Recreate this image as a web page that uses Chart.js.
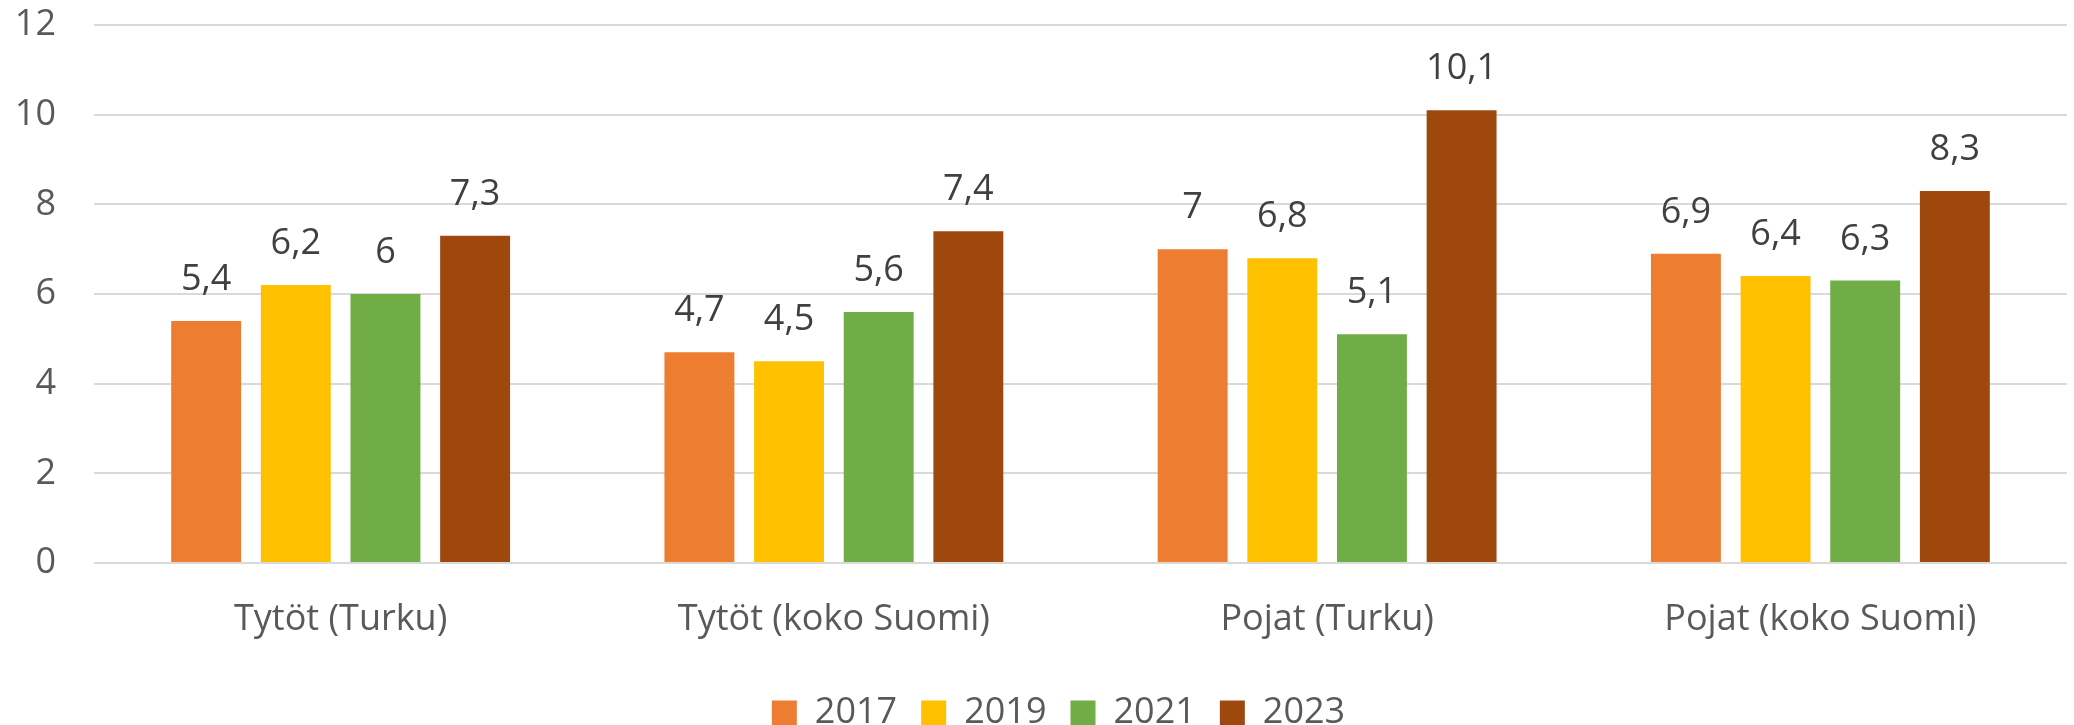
<!DOCTYPE html>
<html>
<head>
<meta charset="utf-8">
<script src="https://cdn.jsdelivr.net/npm/chart.js@4"></script>
<style>
  html, body { margin: 0; padding: 0; background: #ffffff; }
  #wrap { width: 2074px; height: 725px; position: relative; }
</style>
</head>
<body>
<div id="wrap"><canvas id="c"></canvas></div>
<script>
const categories = ["Tytöt (Turku)", "Tytöt (koko Suomi)", "Pojat (Turku)", "Pojat (koko Suomi)"];
const seriesNames = ["2017", "2019", "2021", "2023"];
const values2017 = [5.4, 4.7, 7.0, 6.9];
const values2019 = [6.2, 4.5, 6.8, 6.4];
const values2021 = [6.0, 5.6, 5.1, 6.3];
const values2023 = [7.3, 7.4, 10.1, 8.3];
const seriesColors = ["#ED7D31", "#FFC000", "#70AD47", "#9E480E"];
const yTicks = [0, 2, 4, 6, 8, 10, 12];

const FONT = "'Open Sans'";
const seriesValues = [values2017, values2019, values2021, values2023];

const dataLabels = {
  id: 'dataLabels',
  afterDatasetsDraw(chart) {
    const ctx = chart.ctx;
    ctx.save();
    ctx.font = "36px " + FONT;
    ctx.fillStyle = "#404040";
    ctx.textAlign = "center";
    ctx.textBaseline = "alphabetic";
    chart.data.datasets.forEach((ds, i) => {
      const meta = chart.getDatasetMeta(i);
      meta.data.forEach((el, j) => {
        const v = ds.data[j];
        ctx.fillText(String(v).replace('.', ','), el.x, el.y - 31);
      });
    });
    ctx.restore();
  }
};

const legendShift = {
  id: 'legendShift',
  afterLayout(chart) {
    if (chart.legend) { chart.legend.left += 25; chart.legend.right += 25; }
  }
};

new Chart(document.getElementById('c'), {
  type: 'bar',
  data: {
    labels: categories,
    datasets: seriesNames.map((name, i) => ({
      label: name,
      data: seriesValues[i],
      backgroundColor: seriesColors[i],
      borderWidth: 0,
      categoryPercentage: 0.727,
      barPercentage: 0.78
    }))
  },
  options: {
    responsive: true,
    maintainAspectRatio: false,
    animation: false,
    layout: { padding: { left: 0, right: 7, top: 25, bottom: 0 } },
    plugins: {
      tooltip: { enabled: false },
      legend: {
        position: 'bottom',
        maxHeight: 54,
        labels: {
          font: { family: FONT, size: 36 },
          color: "#595959",
          boxWidth: 25,
          boxHeight: 25,
          padding: 24
        }
      }
    },
    scales: {
      x: {
        grid: { display: false, drawTicks: false },
        border: { display: false },
        ticks: {
          font: { family: FONT, size: 36 },
          color: "#595959",
          padding: 35,
          maxRotation: 0
        },
        afterFit(scale) { scale.height = 108; }
      },
      y: {
        min: 0,
        max: 12,
        afterBuildTicks(scale) { scale.ticks = yTicks.map(v => ({ value: v })); },
        grid: { color: "#D9D9D9", lineWidth: 2, drawTicks: false },
        border: { display: false },
        ticks: {
          font: { family: FONT, size: 36 },
          color: "#595959",
          padding: 38
        },
        afterFit(scale) { scale.width = 94; scale.paddingTop = 0; scale.paddingBottom = 0; }
      }
    }
  },
  plugins: [dataLabels, legendShift]
});
</script>
</body>
</html>
